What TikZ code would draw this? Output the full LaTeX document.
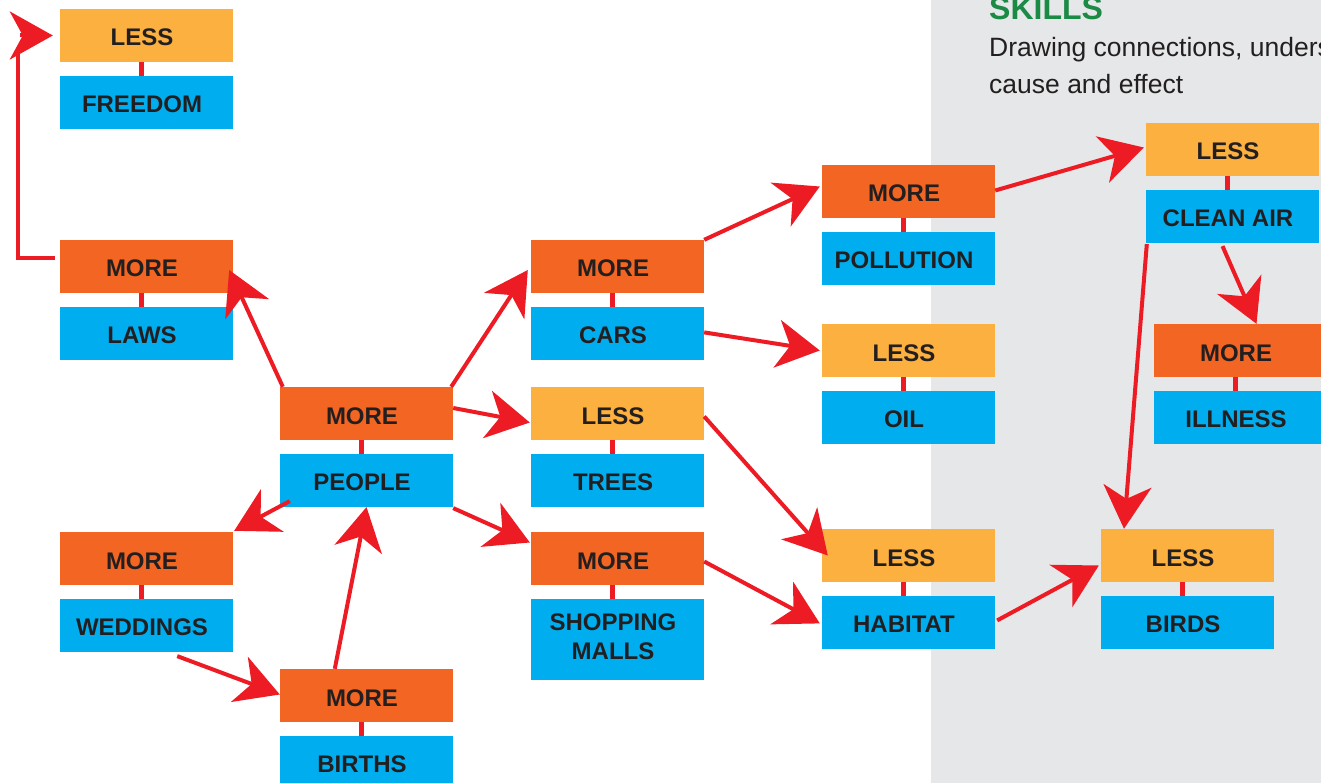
\documentclass[tikz,border=0pt]{standalone}
\usepackage{fontspec}
\setmainfont{Liberation Sans}
\usetikzlibrary{arrows.meta,positioning}

\definecolor{moreorange}{HTML}{F26522}
\definecolor{lessorange}{HTML}{FBB040}
\definecolor{thingblue}{HTML}{00AEEF}
\definecolor{linkred}{HTML}{ED1C24}
\definecolor{panelgray}{HTML}{E6E7E8}
\definecolor{skillgreen}{HTML}{1B8A44}
\definecolor{inkblack}{HTML}{231F20}

\tikzset{
  box/.style={minimum width=173pt, minimum height=53pt, inner sep=0pt,
              text height=21pt, text depth=0pt,
              text=inkblack, font=\fontsize{24}{29}\selectfont\bfseries,
              execute at begin node={\kern-9pt}},
  more/.style={box, fill=moreorange},
  less/.style={box, fill=lessorange},
  thing/.style={box, fill=thingblue},
  tie/.style={draw=linkred, line width=5pt},
  linkline/.style={draw=linkred, line width=4pt},
  link/.style={linkline, -{Stealth[length=43pt, width=48pt, inset=13pt]}},
  skilltext/.style={anchor=base west, inner sep=0pt, text=inkblack,
                    font=\fontsize{26.5}{37}\selectfont},
}

\begin{document}
\begin{tikzpicture}[x=1pt, y=-1pt, node distance=13.5pt]
  \useasboundingbox (0,0) rectangle (1321,783);
  \begin{scope}
    \clip (0,0) rectangle (1321,783);

    % skills panel
    \fill[panelgray] (931,0) rectangle (1321,783);
    \node[anchor=base west, inner sep=0pt, text=skillgreen,
          font=\fontsize{32}{38}\selectfont\bfseries] (skills) at (989,20) {SKILLS};
    \node[skilltext] (skillone) at (989,57) {Drawing connections, understanding};
    \node[skilltext] (skilltwo) at (989,94) {cause and effect};

    % first column
    \node[less] (lessfree) at (146.5,35.5) {LESS};
    \node[thing, below=of lessfree] (freedom) {FREEDOM};
    \node[more] (morelaws) at (146.5,266.5) {MORE};
    \node[thing, below=of morelaws] (laws) {LAWS};
    \node[more] (moreweds) at (146.5,558.5) {MORE};
    \node[thing, below=of moreweds] (weddings) {WEDDINGS};

    % second column
    \node[more] (morepeople) at (366.5,413.5) {MORE};
    \node[thing, below=of morepeople] (people) {PEOPLE};
    \node[more] (morebirths) at (366.5,695.5) {MORE};
    \node[thing, below=of morebirths] (births) {BIRTHS};

    % third column
    \node[more] (morecars) at (617.5,266.5) {MORE};
    \node[thing, below=of morecars] (cars) {CARS};
    \node[less] (lesstrees) at (617.5,413.5) {LESS};
    \node[thing, below=of lesstrees] (trees) {TREES};
    \node[more] (moremalls) at (617.5,558.5) {MORE};
    \node[thing, below=of moremalls, minimum height=81pt,
          text height={}, text depth={}] (malls)
         {\begin{tabular}{@{}c@{}}SHOPPING\\MALLS\end{tabular}};

    % fourth column
    \node[more] (morepoll) at (908.5,191.5) {MORE};
    \node[thing, below=of morepoll] (pollution) {POLLUTION};
    \node[less] (lessoil) at (908.5,350.5) {LESS};
    \node[thing, below=of lessoil] (oil) {OIL};
    \node[less] (lesshab) at (908.5,555.5) {LESS};
    \node[thing, below=of lesshab] (habitat) {HABITAT};

    % right side
    \node[less] (lessair) at (1232.5,149.5) {LESS};
    \node[thing, below=of lessair] (cleanair) {CLEAN AIR};
    \node[more] (moreill) at (1240.5,350.5) {MORE};
    \node[thing, below=of moreill] (illness) {ILLNESS};
    \node[less] (lessbirds) at (1187.5,555.5) {LESS};
    \node[thing, below=of lessbirds] (birds) {BIRDS};

    % ties between the pairs
    \foreach \a/\b in {lessfree/freedom, morelaws/laws, moreweds/weddings,
                       morepeople/people, morebirths/births, morecars/cars,
                       lesstrees/trees, moremalls/malls, morepoll/pollution,
                       lessoil/oil, lesshab/habitat, lessair/cleanair,
                       moreill/illness, lessbirds/birds}
      \draw[tie] ([xshift=-5pt]\a.south) -- ([xshift=-5pt]\b.north);

    % cause and effect arrows
    \coordinate (freetip) at ([xshift=-7pt]lessfree.west);
    \draw[linkline] ([shift={(-5,-8)}]morelaws.west) -| ([shift={(-35,15)}]freetip);
    \draw[link] ([xshift=-33pt]freetip) -- (freetip);
    \draw[link] ([shift={(3,0)}]morepeople.north west) -- ([shift={(-4,3.5)}]morelaws.east);
    \draw[link] ([shift={(-2,0)}]morepeople.north east) -- ([shift={(-3,3.5)}]morecars.west);
    \draw[link] ([shift={(0,-5.5)}]morepeople.east) -- ([shift={(-1,9)}]lesstrees.west);
    \draw[link] ([shift={(10,-6)}]people.south west) -- ([shift={(1,-1)}]moreweds.north east);
    \draw[link] ([shift={(0,1)}]people.south east) -- ([shift={(-1,-16)}]moremalls.west);
    \draw[link] ([shift={(-56,4)}]weddings.south east) -- ([shift={(0,-1)}]morebirths.west);
    \draw[link] ([shift={(55,0)}]morebirths.north west) -- (people.south);
    \draw[link] (morecars.north east) -- ([shift={(-2,-5)}]morepoll.west);
    \draw[link] ([shift={(0,-1)}]cars.east) -- ([shift={(-2,0)}]lessoil.west);
    \draw[link] ([shift={(0,3)}]lesstrees.east) -- ([shift={(6,0)}]lesshab.west);
    \draw[link] ([shift={(0,3)}]moremalls.east) -- ([shift={(-2,1)}]habitat.west);
    \draw[link] ([shift={(0,-1)}]morepoll.east) -- ([shift={(-2,-2)}]lessair.west);
    \draw[link] ([shift={(1,1)}]cleanair.south west) -- ([shift={(-63.5,0)}]lessbirds.north);
    \draw[link] ([shift={(-10,3)}]cleanair.south) -- ([shift={(16,0)}]moreill.north);
    \draw[link] ([shift={(2,-2)}]habitat.east) -- ([shift={(-2,10)}]lessbirds.west);
  \end{scope}
\end{tikzpicture}
\end{document}
